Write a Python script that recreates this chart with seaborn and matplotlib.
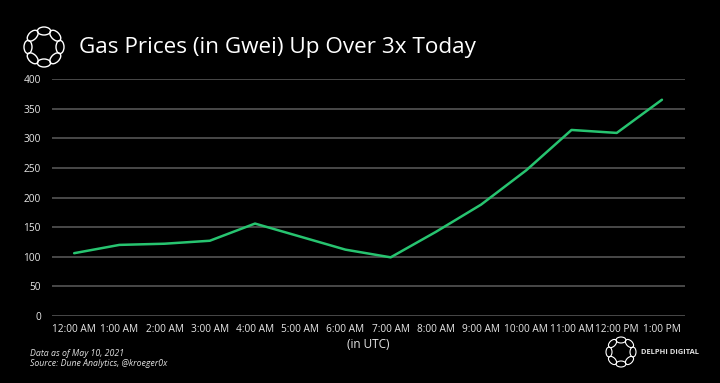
import numpy as np
import pandas as pd
import matplotlib
matplotlib.use("Agg")
import matplotlib.pyplot as plt
import seaborn as sns
from matplotlib.patches import Ellipse

hours = ["12:00 AM", "1:00 AM", "2:00 AM", "3:00 AM", "4:00 AM", "5:00 AM", "6:00 AM",
         "7:00 AM", "8:00 AM", "9:00 AM", "10:00 AM", "11:00 AM", "12:00 PM", "1:00 PM"]
gas_gwei = [106, 120, 122, 127, 156, 134, 112, 99, 142, 188, 246, 314, 309, 365]
y_ticks = [0, 50, 100, 150, 200, 250, 300, 350, 400]

title = "Gas Prices (in Gwei) Up Over 3x Today"
xlabel = "(in UTC)"
note1 = "Data as of May 10, 2021"
note2 = "Source: Dune Analytics, @kroeger0x"
brand = "DELPHI DIGITAL"

sns.set_theme(style="dark")
plt.rcParams['font.family'] = ['Open Sans', 'DejaVu Sans']

W, H = 720, 383
fig = plt.figure(figsize=(W / 100, H / 100), dpi=100, facecolor="black")
ax = fig.add_axes([52 / W, 1 - 316 / H, (685 - 52) / W, (316 - 79) / H])
ax.set_facecolor("black")

df = pd.DataFrame({"hour": hours, "gwei": gas_gwei})
sns.lineplot(data=df, x="hour", y="gwei", ax=ax, color="#27c470", linewidth=1.8, sort=False)

ax.set_xlim(-0.49, len(hours) - 1 + 0.51)
ax.set_ylim(0, 400)
ax.set_yticks(y_ticks)
ax.set_xticks(range(len(hours)))
ax.set_xticklabels(hours)
for s in ax.spines.values():
    s.set_visible(False)
ax.grid(axis="y", color="#5c5c5c", linewidth=1.1)
ax.grid(axis="x", visible=False)
ax.tick_params(axis="both", length=0, colors="#e8e8e8", labelsize=7.3)
ax.tick_params(axis="y", pad=8)
ax.tick_params(axis="x", pad=6)
ax.set_xlabel(xlabel, color="#e8e8e8", fontsize=8.5, labelpad=2)
ax.set_ylabel("")

fig.text(79 / W, 1 - 47 / H, title, color="white", fontsize=16.2, va="center", ha="left")
fig.text(30 / W, 1 - 353 / H, note1, color="#e0e0e0", fontsize=6.3, style="italic", va="center")
fig.text(30 / W, 1 - 364 / H, note2, color="#e0e0e0", fontsize=6.3, style="italic", va="center")
fig.text(641 / W, 1 - 353 / H, brand, color="#e0e0e0", fontsize=5.4, va="center",
         fontweight="bold")


def draw_logo(cx, cy, r, lw):
    size = 2.6 * r
    lax = fig.add_axes([(cx - size / 2) / W, 1 - (cy + size / 2) / H, size / W, size / H])
    lax.set_xlim(-1.3, 1.3)
    lax.set_ylim(-1.3, 1.3)
    lax.set_aspect("equal")
    lax.axis("off")
    n = 8
    for k in range(n):
        a = 2 * np.pi * k / n
        e = Ellipse((np.cos(a) * 0.8, np.sin(a) * 0.8), 0.66, 0.40,
                    angle=np.degrees(a) + 90, fill=False, edgecolor="white", linewidth=lw)
        lax.add_patch(e)


draw_logo(44, 47, 20, 1.0)
draw_logo(621, 352, 15, 0.8)

fig.savefig("out.png", dpi=100, facecolor="black")
